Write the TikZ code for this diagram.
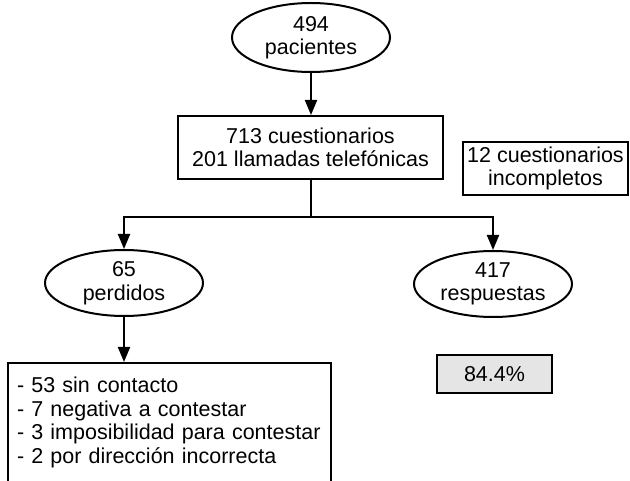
\documentclass[tikz,border=0pt]{standalone}
\usepackage{fontspec}
\setmainfont{Liberation Sans}
\usetikzlibrary{shapes.geometric,arrows.meta}
\begin{document}
\begin{tikzpicture}[x=1pt,y=-1pt,
  every node/.style={font=\fontsize{21.5pt}{23.5pt}\selectfont, line width=2pt, inner sep=0pt},
  oval/.style={draw, ellipse, minimum width=158pt, align=center},
  box/.style={draw, rectangle, align=center},
  conn/.style={line width=2pt},
  arr/.style={conn, -{Triangle[length=15pt,width=12pt]}}]
\useasboundingbox (0,0) rectangle (630,481);
\clip (0,0) rectangle (630,481);
\node[oval, minimum height=69pt] (pac) at (311,37.5) {494\\pacientes};
\node[box, minimum width=265pt, minimum height=63pt] (cues) at (310.5,147.5) {713 cuestionarios\\201 llamadas telefónicas};
\node[box, minimum width=165pt, minimum height=53pt] (inc) at (545.5,168.5) {12 cuestionarios\\incompletos};
\node[oval, minimum height=66pt] (per) at (124,283) {65\\perdidos};
\node[oval, minimum height=66pt] (res) at (493,284) {417\\respuestas};
\node[box, fill=black!10, minimum width=115pt, minimum height=38pt] (pct) at (494.5,374) {84.4\%};
\node[draw, rectangle, anchor=north west, align=left, text width=305pt, inner xsep=9pt, inner ysep=14pt] (lost) at (7,362)
  {\mbox{- 53 sin contacto}\\\mbox{- 7 negativa a contestar}\\\mbox{- 3 imposibilidad para contestar}\\\mbox{- 2 por dirección incorrecta}\rule[-40pt]{0pt}{40pt}};
\coordinate (split) at (310.5,217);
\draw[arr] (pac) -- (pac.south |- cues.north);
\draw[conn] (cues.south) -- (split);
\draw[arr] (split) -| (per.north);
\draw[arr] (split) -| (res.north);
\draw[arr] (per) -- (per.south |- lost.north);
\end{tikzpicture}
\end{document}
